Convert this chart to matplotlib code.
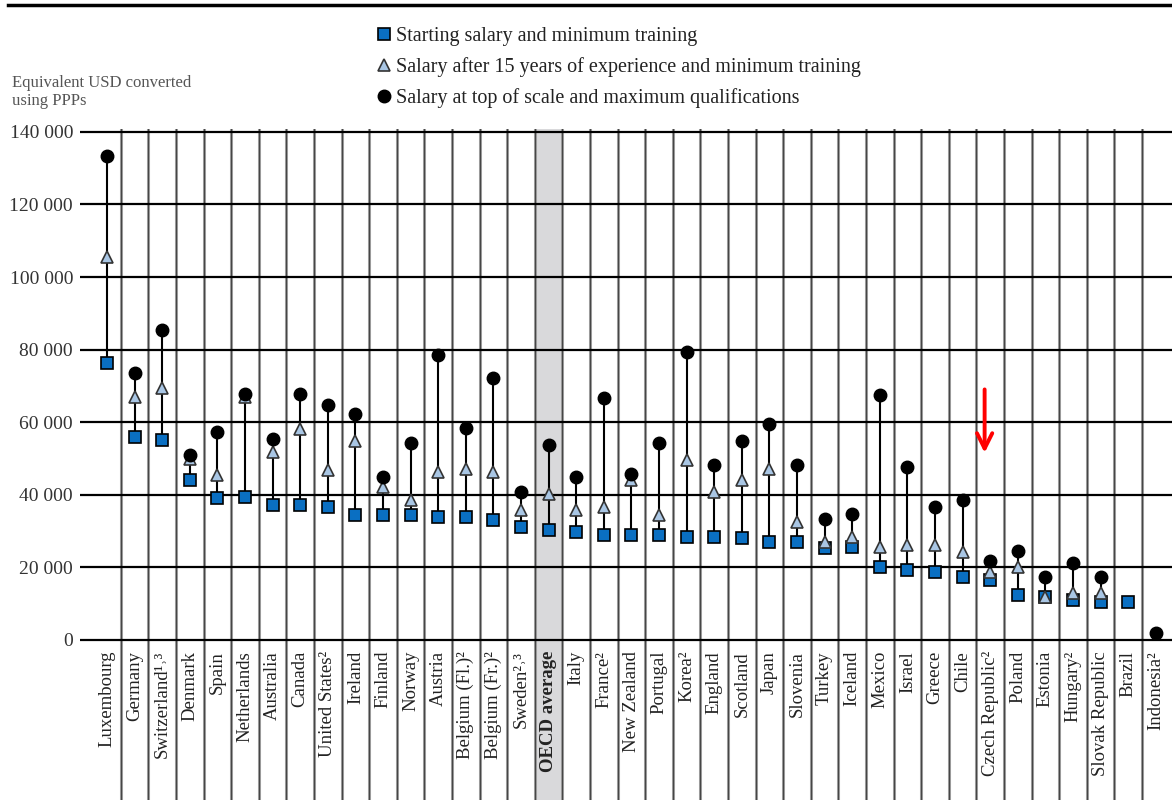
import matplotlib
matplotlib.use('Agg')
import matplotlib.pyplot as plt
from matplotlib.lines import Line2D

countries = ['Luxembourg', 'Germany', 'Switzerland¹˒³', 'Denmark', 'Spain', 'Netherlands',
             'Australia', 'Canada', 'United States²', 'Ireland', 'Finland', 'Norway', 'Austria',
             'Belgium (Fl.)²', 'Belgium (Fr.)²', 'Sweden²˒³', 'OECD average', 'Italy', 'France²',
             'New Zealand', 'Portugal', 'Korea²', 'England', 'Scotland', 'Japan', 'Slovenia',
             'Turkey', 'Iceland', 'Mexico', 'Israel', 'Greece', 'Chile', 'Czech Republic²',
             'Poland', 'Estonia', 'Hungary²', 'Slovak Republic', 'Brazil', 'Indonesia²']

starting = [76400, 55800, 55100, 44100, 39200, 39500, 37200, 37200, 36600, 34400, 34400,
            34400, 33800, 33800, 33100, 31000, 30300, 29700, 28900, 28900, 28900, 28300,
            28300, 28000, 26900, 26900, 25300, 25600, 20000, 19300, 18700, 17300, 16500,
            12400, 11800, 11000, 10600, 10600, None]
after15 = [105600, 67000, 69300, 50000, 45500, 67000, 51900, 58100, 46700, 54700, 42100,
           38600, 46400, 47000, 46400, 35800, 40100, 35800, 36700, 44100, 34300, 49600,
           40900, 44100, 47000, 32400, 27100, 28300, 25600, 26200, 26200, 24300, 18800,
           20200, 11900, 12900, 12900, None, None]
top_scale = [133300, 73600, 85300, 51000, 57400, 67700, 55300, 67700, 64700, 62300, 45000,
             54200, 78500, 58300, 72100, 40900, 53700, 44800, 66600, 45700, 54200, 79400,
             48100, 54900, 59500, 48100, 33300, 34700, 67500, 47600, 36700, 38600, 21800,
             24600, 17300, 21100, 17400, None, 1800]

yticks = [0, 20000, 40000, 60000, 80000, 100000, 120000, 140000]
ytick_labels = ['0', '20 000', '40 000', '60 000', '80 000', '100 000', '120 000', '140 000']

serif = ['Liberation Serif', 'DejaVu Serif']
plt.rcParams['font.family'] = serif

fig = plt.figure(figsize=(11.72, 8), dpi=100)
W, H = 1172, 800
# axes spans pixel x 80..1172, y 129..800
ax = fig.add_axes([80 / W, 0, 1 - 80 / W, (800 - 129) / H])
px = 275.5  # value per pixel
ax.set_ylim(-(800 - 640) * px, (640 - 129) * px)
ax.set_xlim(-0.98, 38.59)
for s in ax.spines.values():
    s.set_visible(False)

n = len(countries)
x = list(range(n))

oecd = countries.index('OECD average')
ax.axvspan(oecd - 0.5, oecd + 0.5, color='#d9d9db', zorder=0)

for i in range(n - 1):
    ax.axvline(i + 0.5, color='#9a9a9a', lw=2.2, zorder=1)
    ax.axvline(i + 0.5, color='#444444', lw=0.7, zorder=1)
for v in yticks:
    ax.axhline(v, color='black', lw=1.6, zorder=1)

ax.set_yticks(yticks)
ax.set_yticklabels(ytick_labels, fontsize=14, color='#333333')
ax.tick_params(axis='y', length=0, pad=5)
ax.set_xticks([])

for i in range(n):
    vals = [v for v in (starting[i], after15[i], top_scale[i]) if v is not None]
    if len(vals) > 1:
        ax.plot([i, i], [min(vals), max(vals)], color='black', lw=1.5, zorder=2)

xs = [i for i in x if starting[i] is not None]
ax.plot(xs, [starting[i] for i in xs], 's', ms=8, mfc='#0a6fc2', mec='black', mew=1.2, zorder=3)
xt = [i for i in x if after15[i] is not None]
ax.plot(xt, [after15[i] for i in xt], '^', ms=9, mfc='#a9c6e4', mec='#333333', mew=1.2, zorder=4)
xc = [i for i in x if top_scale[i] is not None]
ax.plot(xc, [top_scale[i] for i in xc], 'o', ms=9, mfc='black', mec='black', zorder=5)

for i, name in enumerate(countries):
    ax.text(i, -3000, name, rotation=90, ha='center', va='top', fontsize=13.5,
            fontweight='bold' if name == 'OECD average' else 'normal', color='#222222',
            family=serif)

ax.annotate('', xy=(31.8, 50800), xytext=(31.8, 69800),
            arrowprops=dict(arrowstyle='->,head_length=1.1,head_width=0.55', color='red', lw=2.8))

handles = [
    Line2D([], [], marker='s', ls='none', ms=8, mfc='#0a6fc2', mec='black', mew=1.2),
    Line2D([], [], marker='^', ls='none', ms=9, mfc='#a9c6e4', mec='#333333', mew=1.2),
    Line2D([], [], marker='o', ls='none', ms=9, mfc='black', mec='black'),
]
labels = ['Starting salary and minimum training',
          'Salary after 15 years of experience and minimum training',
          'Salary at top of scale and maximum qualifications']
fig.legend(handles, labels, loc='upper left', bbox_to_anchor=(356 / W, 1 - 9 / H),
           frameon=False, fontsize=14.5, handletextpad=0.1, handlelength=1.0,
           labelspacing=0.55, labelcolor='#222222')

fig.text(12 / W, 1 - 75 / H, 'Equivalent USD converted\nusing PPPs', fontsize=12,
         color='#555555', va='top', ha='left', linespacing=1.15)

fig.add_artist(Line2D([8 / W, 1], [1 - 5 / H, 1 - 5 / H], color='black', lw=2.5))

fig.savefig('out.png', dpi=100)
